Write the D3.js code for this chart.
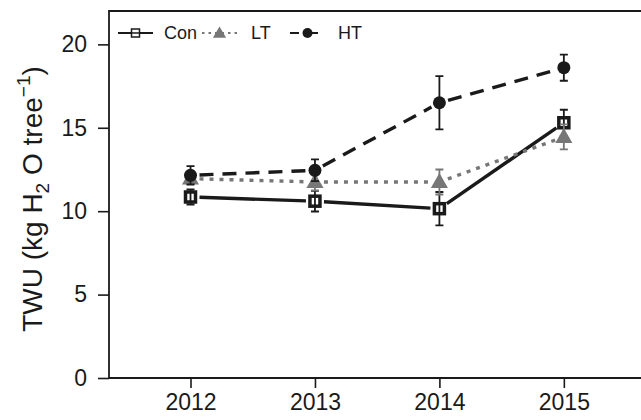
<!DOCTYPE html>
<html>
<head>
<meta charset="utf-8">
<script src="https://cdnjs.cloudflare.com/ajax/libs/d3/7.8.5/d3.min.js"></script>
<style>
  body { margin: 0; background: #fff; }
  svg { display: block; font-family: "Liberation Sans", Arial, sans-serif; }
</style>
</head>
<body>
<svg width="641" height="420"></svg>
<script>
var years = [2012, 2013, 2014, 2015];
var yTicks = [0, 5, 10, 15, 20];

// treatment means and standard errors
var conMean = [10.85, 10.6, 10.15, 15.3];
var conErr  = [0.45, 0.62, 1.0, 0.78];
var ltMean  = [11.95, 11.75, 11.75, 14.45];
var ltErr   = [0.3, 0.5, 0.75, 0.75];
var htMean  = [12.15, 12.45, 16.5, 18.6];
var htErr   = [0.55, 0.65, 1.6, 0.78];

var width = 641, height = 420;
var margin = {top: 11, right: 0, bottom: 42, left: 109};

var series = [
  {name: 'Con', mean: conMean, err: conErr, color: '#1a1a1a', dash: null, shape: 'square'},
  {name: 'LT', mean: ltMean, err: ltErr, color: '#777777', dash: '4,6', shape: 'triangle'},
  {name: 'HT', mean: htMean, err: htErr, color: '#1a1a1a', dash: '14,9', shape: 'circle'}
];

var svg = d3.select('svg');

var xScale = d3.scaleLinear()
  .domain([2011.345, 2015.62])
  .range([margin.left, width - margin.right]);

var yScale = d3.scaleLinear()
  .domain([0, 22])
  .range([height - margin.bottom, margin.top]);

// frame: left, top and bottom edges (runs off the right side)
var frame = svg.append('g')
  .attr('stroke', '#1a1a1a')
  .attr('stroke-width', 1.8);
frame.append('line')
  .attr('x1', margin.left).attr('x2', width)
  .attr('y1', margin.top).attr('y2', margin.top);
frame.append('line')
  .attr('x1', margin.left).attr('x2', width)
  .attr('y1', height - margin.bottom).attr('y2', height - margin.bottom);
frame.append('line')
  .attr('x1', margin.left).attr('x2', margin.left)
  .attr('y1', margin.top - 0.9).attr('y2', height - margin.bottom + 0.9);

var xAxis = d3.axisBottom(xScale)
  .tickValues(years)
  .tickFormat(d3.format('d'))
  .tickSize(10)
  .tickPadding(6);

var yAxis = d3.axisLeft(yScale)
  .tickValues(yTicks)
  .tickSize(11)
  .tickPadding(11);

var gx = svg.append('g')
  .attr('transform', 'translate(' + [0, height - margin.bottom] + ')')
  .call(xAxis);
var gy = svg.append('g')
  .attr('transform', 'translate(' + [margin.left, 0] + ')')
  .call(yAxis);

[gx, gy].forEach(g => {
  g.select('.domain').remove();
  g.selectAll('.tick line').attr('stroke', '#1a1a1a').attr('stroke-width', 1.6);
  g.selectAll('.tick text')
    .attr('fill', '#1a1a1a')
    .style('font-size', '23px')
    .style('font-family', '"Liberation Sans", Arial, sans-serif');
});

// y axis title
var title = svg.append('text')
  .attr('transform', 'translate(' + [42, 199] + ') rotate(-90)')
  .attr('text-anchor', 'middle')
  .attr('fill', '#1a1a1a')
  .style('font-size', '28px');
title.append('tspan').text('TWU (kg H');
title.append('tspan').text('2').attr('dy', 7).style('font-size', '19px');
title.append('tspan').text(' O tree').attr('dy', -7);
title.append('tspan').text('\u22121').attr('dy', -12).style('font-size', '19px');
title.append('tspan').text(')').attr('dy', 12);

// connecting segments, trimmed around each marker
var gap = 9;
var line = d3.line();
series.forEach(s => {
  for (var i = 0; i < years.length - 1; i++) {
    var x0 = xScale(years[i]), y0 = yScale(s.mean[i]);
    var x1 = xScale(years[i + 1]), y1 = yScale(s.mean[i + 1]);
    var len = Math.hypot(x1 - x0, y1 - y0);
    var ux = (x1 - x0) / len, uy = (y1 - y0) / len;
    svg.append('path')
      .attr('d', line([[x0 + ux * gap, y0 + uy * gap], [x1 - ux * gap, y1 - uy * gap]]))
      .attr('fill', 'none')
      .attr('stroke', s.color)
      .attr('stroke-width', 3.4)
      .attr('stroke-dasharray', s.dash);
  }
});

function drawMarker(g, shape, color, size, sw) {
  if (shape === 'square') {
    g.append('rect')
      .attr('x', -size / 2).attr('y', -size / 2)
      .attr('width', size).attr('height', size)
      .attr('fill', 'none')
      .attr('stroke', color)
      .attr('stroke-width', sw);
  } else if (shape === 'triangle') {
    g.append('path')
      .attr('d', d3.symbol(d3.symbolTriangle, size * size * 0.75)())
      .attr('transform', 'translate(0,1)')
      .attr('fill', color);
  } else {
    g.append('circle')
      .attr('r', size / 2)
      .attr('fill', color);
  }
}

// error bars and markers
var cap = 4;
series.forEach(s => {
  var g = svg.append('g');
  years.forEach((yr, i) => {
    var cx = xScale(yr);
    var lo = yScale(s.mean[i] - s.err[i]), hi = yScale(s.mean[i] + s.err[i]);
    g.append('path')
      .attr('d', 'M' + [cx, lo] + 'V' + hi + 'M' + [cx - cap, lo] + 'H' + (cx + cap) + 'M' + [cx - cap, hi] + 'H' + (cx + cap))
      .attr('fill', 'none')
      .attr('stroke', s.color)
      .attr('stroke-width', 1.8);
    var m = g.append('g').attr('transform', 'translate(' + [cx, yScale(s.mean[i])] + ')');
    drawMarker(m, s.shape, s.color, s.shape === 'square' ? 10 : 13, 3.5);
  });
});

// legend
var legend = svg.append('g').attr('transform', 'translate(118,33)');
var legX = [0, 84, 172];
series.forEach((s, i) => {
  var lg = legend.append('g').attr('transform', 'translate(' + [legX[i], 0] + ')');
  lg.append('line')
    .attr('x1', 0).attr('x2', 35)
    .attr('stroke', s.color)
    .attr('stroke-width', s.shape === 'triangle' ? 1.8 : 2)
    .attr('stroke-dasharray', s.shape === 'triangle' ? '2.5,4' : (s.dash ? '9,10' : null));
  var m = lg.append('g').attr('transform', 'translate(17.5,0)');
  if (s.shape === 'square') {
    m.append('rect').attr('x', -4).attr('y', -4).attr('width', 8).attr('height', 8)
      .attr('fill', '#fff').attr('stroke', s.color).attr('stroke-width', 1.5);
    m.append('line').attr('x1', -4).attr('x2', 4).attr('stroke', s.color).attr('stroke-width', 1.5);
  } else {
    drawMarker(m, s.shape, s.color, 10, 1.5);
  }
  lg.append('text')
    .attr('x', s.shape === 'square' ? 46 : (s.shape === 'triangle' ? 49 : 48))
    .attr('y', 0)
    .attr('dy', '0.35em')
    .attr('fill', '#1a1a1a')
    .style('font-size', '18px')
    .text(s.name);
});
</script>
</body>
</html>
